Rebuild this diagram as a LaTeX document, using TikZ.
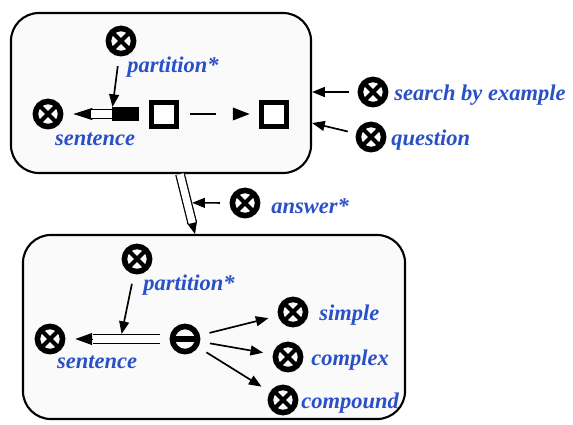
\documentclass[tikz,border=0pt]{standalone}
\usepackage{fontspec}
\setmainfont{Liberation Serif}
\usetikzlibrary{arrows.meta}
\usetikzlibrary{calc}
\definecolor{lblue}{RGB}{42,80,200}

\tikzset{
  frame/.style={draw, line width=1.5pt, rounded corners=0.7cm, fill=black!2},
  otimes/.style={circle, draw, line width=0.14cm, minimum size=0.63cm, inner sep=0pt,
    path picture={\draw[line width=0.1cm] (path picture bounding box.north west) -- (path picture bounding box.south east)
      (path picture bounding box.north east) -- (path picture bounding box.south west);}},
  ominus/.style={circle, draw, line width=0.14cm, minimum size=0.63cm, inner sep=0pt,
    path picture={\draw[line width=0.13cm] (path picture bounding box.west) -- (path picture bounding box.east);}},
  sqbox/.style={draw, fill=white, line width=0.125cm, minimum size=0.6cm, inner sep=0pt},
  hollow/.style={line width=0.9pt, double=white, double distance=0.18cm},
  arr/.style={line width=1.2pt, -{Triangle[length=9pt,width=7pt]}},
  lbl/.style={font=\fontsize{16}{19}\selectfont\bfseries\itshape, text=lblue, inner sep=0pt, anchor=base west}
}

\begin{document}
\begin{tikzpicture}[x=0.025cm, y=-0.025cm]
    \useasboundingbox (0,0) rectangle (573,424);
    \node[frame, minimum width=7.5cm, minimum height=4cm] (top) at (161,93) {};
    \node[frame, minimum width=9.55cm, minimum height=4.6cm] (bot) at (214,327) {};

    % upper box
    \node[otimes] (part1) at (121,41) {};
    \node[lbl] (part1l) at (127,72) {partition*};
    \node[otimes] (sent1) at (48,114) {};
    \node[lbl, anchor=base] (sent1l) at (95,145) {sentence};
    \node[sqbox] (sq1) at (164,114) {};
    \node[sqbox] (sq2) at (274,114) {};
    \coordinate (p1) at ($(sq1.west)+(-10,0)$);
    \draw[line width=0.5pt, -{Triangle[length=0.475cm,width=0.3cm]}] (p1) -- ($(sent1.east)+(10,0)$);
    \draw[line width=0.35cm] (p1) -- ++(-27,0) coordinate (pm);
    \draw[hollow] (pm) -- ++(-21,0);
    \draw[arr, shorten <=7pt] (part1) -- ($(pm)+(0,-7)$);
    \draw[line width=1.2pt, -{Triangle[length=12pt,width=9pt]}, dash pattern=on 19pt off 13pt,
      shorten <=8pt, shorten >=7pt] (sq1) -- (sq2);

    \node[otimes] (srch) at (373,92) {};
    \node[lbl] (srchl) at (394,100) {search by example};
    \draw[arr, shorten <=6pt] (srch) -- (srch -| top.east);
    \node[otimes] (quest) at (371,137) {};
    \node[lbl] (questl) at (391,145) {question};
    \draw[arr, shorten <=6pt] (quest) -- ($(top.east)+(0,30)$);

    % link between boxes
    \coordinate (v1) at ($(top.south)+(19,0)$);
    \coordinate (v2) at ($(bot.north)+(-19,0)$);
    \draw[line width=0.5pt, -{Triangle[length=9pt,width=7.5pt]}] (v1) -- (v2);
    \draw[hollow, shorten >=8pt] (v1) -- (v2);
    \path (v1) -- (v2) coordinate[pos=0.48] (vm);
    \node[otimes] (ans) at (245,203) {};
    \node[lbl] (ansl) at (271,213) {answer*};
    \draw[arr, shorten <=7pt] (ans) -- ($(vm)+(5,0)$);

    % lower box
    \node[otimes] (part2) at (137,259) {};
    \node[lbl] (part2l) at (143,290) {partition*};
    \node[otimes] (sent2) at (50,339) {};
    \node[lbl, anchor=base] (sent2l) at (97,368) {sentence};
    \node[ominus] (split) at (185,339) {};
    \draw[line width=0.5pt, -{Triangle[length=0.42cm,width=0.3cm]}] ($(split.west)+(-10,0)$) -- ($(sent2.east)+(10,0)$);
    \draw[hollow] ($(split.west)+(-10,0)$) -- ++(-67,0) coordinate (q1);
    \coordinate (q2) at ($(q1)+(29,-5)$);
    \draw[arr, shorten <=7pt] (part2) -- (q2);

    \node[otimes] (simp) at (293,312) {};
    \node[lbl] (simpl) at (319,320) {simple};
    \node[otimes] (cplx) at (288,357) {};
    \node[lbl] (cplxl) at (311,365) {complex};
    \node[otimes] (cmpd) at (283,400) {};
    \node[lbl] (cmpdl) at (301,408) {compound};
    \foreach \t in {simp,cplx,cmpd}
      \draw[arr, shorten <=7pt, shorten >=7pt] (split) -- (\t);
\end{tikzpicture}
\end{document}
